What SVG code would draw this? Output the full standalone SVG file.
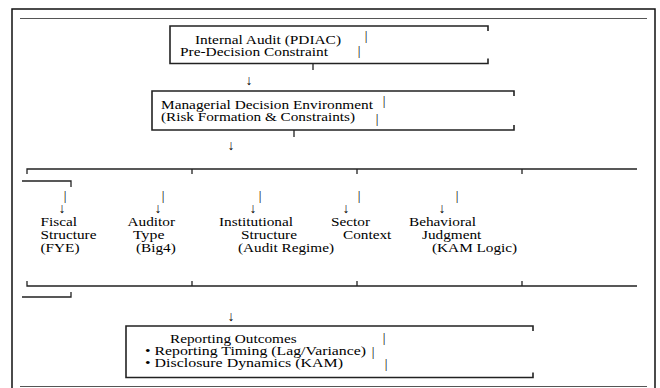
<svg xmlns="http://www.w3.org/2000/svg" width="660" height="388" viewBox="0 0 660 388">
<style>
text{font-family:"Liberation Serif","Times New Roman",serif;font-size:13.5px;fill:#000}
.p{text-anchor:middle}
.a{text-anchor:middle;font-size:14px}
.frame{fill:none;stroke:#111;stroke-width:1.5}
.rule{fill:none;stroke:#555;stroke-width:1}
.bx{fill:none;stroke:#222;stroke-width:1.6}
.br{fill:none;stroke:#222;stroke-width:1.3}
</style>
<rect width="660" height="388" fill="#fff"/>
<path class="frame" d="M12,388 V9 H655 V388"/>
<path class="rule" d="M20,18.5 H647 M20,386.5 H647"/>

<g id="internal-audit">
<path class="bx" d="M488,31 V26 H170 V63.5 H488 V58.5"/>
<text x="195" y="44" textLength="146" lengthAdjust="spacingAndGlyphs">Internal Audit (PDIAC)</text>
<text x="180" y="56" textLength="148" lengthAdjust="spacingAndGlyphs">Pre-Decision Constraint</text>
<text class="p" x="366" y="40">|</text>
<text class="p" x="359" y="55">|</text>
</g>

<g id="managerial-decision">
<path class="bx" d="M514,96 V91 H152 V130 H514 V125"/>
<text x="161" y="108.5" textLength="212" lengthAdjust="spacingAndGlyphs">Managerial Decision Environment</text>
<text x="161" y="120.5" textLength="194" lengthAdjust="spacingAndGlyphs">(Risk Formation &amp; Constraints)</text>
<text class="p" x="384" y="105">|</text>
<text class="p" x="377" y="123">|</text>
</g>

<g id="factor-band">
<path class="br" d="M27,174 V169 H637 M192,169 V174 M357,169 V174 M522,169 V174 M22,181 H71 V187"/>
<path class="br" d="M27,281 V286 H637 M192,286 V281 M357,286 V281 M522,286 V281 M22,297 H71 V292"/>
</g>

<g id="fiscal-structure">
<text x="40.5" y="225.5" textLength="36.5" lengthAdjust="spacingAndGlyphs">Fiscal</text>
<text x="40.5" y="238.5" textLength="56" lengthAdjust="spacingAndGlyphs">Structure</text>
<text x="40.5" y="251.5" textLength="39" lengthAdjust="spacingAndGlyphs">(FYE)</text>
</g>
<g id="auditor-type">
<text x="127.5" y="225.5" textLength="47.5" lengthAdjust="spacingAndGlyphs">Auditor</text>
<text x="133" y="238.5" textLength="31.4" lengthAdjust="spacingAndGlyphs">Type</text>
<text x="136" y="251.5" textLength="39.8" lengthAdjust="spacingAndGlyphs">(Big4)</text>
</g>
<g id="institutional-structure">
<text x="219" y="225.5" textLength="74" lengthAdjust="spacingAndGlyphs">Institutional</text>
<text x="241" y="238.5" textLength="56" lengthAdjust="spacingAndGlyphs">Structure</text>
<text x="238" y="251.5" textLength="96" lengthAdjust="spacingAndGlyphs">(Audit Regime)</text>
</g>
<g id="sector-context">
<text x="331" y="225.5" textLength="39" lengthAdjust="spacingAndGlyphs">Sector</text>
<text x="343" y="238.5" textLength="48.3" lengthAdjust="spacingAndGlyphs">Context</text>
</g>
<g id="behavioral-judgment">
<text x="409" y="225.5" textLength="67" lengthAdjust="spacingAndGlyphs">Behavioral</text>
<text x="422" y="238.5" textLength="59.3" lengthAdjust="spacingAndGlyphs">Judgment</text>
<text x="432" y="251.5" textLength="85.2" lengthAdjust="spacingAndGlyphs">(KAM Logic)</text>
</g>

<g id="reporting-outcomes">
<path class="bx" d="M533,331 V326 H126 V377.5 H533 V372.5"/>
<text x="170" y="343" textLength="126.7" lengthAdjust="spacingAndGlyphs">Reporting Outcomes</text>
<text x="145" y="355" textLength="221" lengthAdjust="spacingAndGlyphs">• Reporting Timing (Lag/Variance)</text>
<text x="145" y="366.5" textLength="198" lengthAdjust="spacingAndGlyphs">• Disclosure Dynamics (KAM)</text>
<text class="p" x="384" y="342">|</text>
<text class="p" x="373" y="356">|</text>
<text class="p" x="386" y="368">|</text>
</g>

<g id="connectors">
<path class="br" d="M313,63.5 V70 M294,130 V137"/>
<text class="a" x="249" y="85">↓</text>
<text class="a" x="231" y="150">↓</text>
<text class="a" x="231" y="321">↓</text>
<text class="p" x="65" y="200">|</text>
<text class="a" x="62" y="213">↓</text>
<text class="p" x="163" y="200">|</text>
<text class="a" x="158" y="213">↓</text>
<text class="p" x="260" y="200">|</text>
<text class="a" x="253" y="213">↓</text>
<text class="p" x="359" y="200">|</text>
<text class="a" x="346" y="213">↓</text>
<text class="p" x="457" y="200">|</text>
<text class="a" x="442" y="213">↓</text>
</g>
</svg>
